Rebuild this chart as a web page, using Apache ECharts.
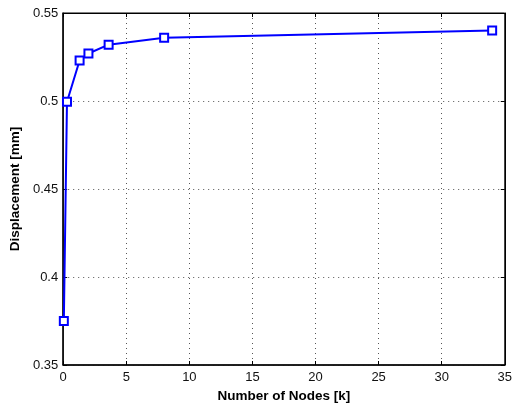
<!DOCTYPE html>
<html>
<head>
<meta charset="utf-8">
<script src="https://cdn.jsdelivr.net/npm/echarts@6/dist/echarts.min.js"></script>
<style>html,body{margin:0;padding:0;background:#fff}#c{width:515px;height:408px}</style>
</head>
<body>
<div id="c"></div>
<script>
var nodes = [0.05, 0.3, 1.3, 2.0, 3.6, 8.0, 34.0];
var displacement = [0.375, 0.4996, 0.523, 0.527, 0.532, 0.536, 0.540];
var xTicks = [0, 5, 10, 15, 20, 25, 30, 35];
var yTicks = [0.35, 0.4, 0.45, 0.5, 0.55];

var font = 'Liberation Sans, Arial, Helvetica, sans-serif';
var data = nodes.map(function (x, i) { return [x, displacement[i]]; });

var chart = echarts.init(document.getElementById('c'));
var gridLine = { show: true, lineStyle: { color: '#555', type: [1, 4], width: 1 } };
chart.setOption({
  animation: false,
  backgroundColor: '#fff',
  grid: { left: 61, right: 7, top: 13, bottom: 43, show: true, borderColor: '#000', borderWidth: 1 },
  xAxis: [{
    type: 'value', min: 0, max: 35, interval: 5,
    name: 'Number of Nodes [k]', nameLocation: 'middle', nameGap: 21,
    nameTextStyle: { fontFamily: font, fontWeight: 'bold', fontSize: 13.5, color: '#000' },
    axisLine: { show: true, onZero: false, lineStyle: { color: '#000', width: 1.5 } },
    axisTick: { show: true, inside: true, length: 4, lineStyle: { color: '#000' } },
    axisLabel: { fontFamily: font, fontSize: 13, color: '#111', margin: 6 },
    splitLine: gridLine
  }, {
    type: 'value', min: 0, max: 35, interval: 5, position: 'top',
    axisLine: { show: true, onZero: false, lineStyle: { color: '#000', width: 1 } },
    axisTick: { show: true, inside: true, length: 4, lineStyle: { color: '#000' } },
    axisLabel: { show: false }, splitLine: { show: false }
  }],
  yAxis: [{
    type: 'value', min: 0.35, max: 0.55, interval: 0.05,
    name: 'Displacement [mm]', nameLocation: 'middle', nameGap: 39,
    nameTextStyle: { fontFamily: font, fontWeight: 'bold', fontSize: 13.5, color: '#000' },
    axisLine: { show: true, onZero: false, lineStyle: { color: '#000', width: 1.5 } },
    axisTick: { show: true, inside: true, length: 4, lineStyle: { color: '#000' } },
    axisLabel: { fontFamily: font, fontSize: 13, color: '#111', margin: 5,
      formatter: function (v) { return String(Math.round(v * 100) / 100); } },
    splitLine: gridLine
  }, {
    type: 'value', min: 0.35, max: 0.55, interval: 0.05, position: 'right',
    axisLine: { show: true, onZero: false, lineStyle: { color: '#000', width: 1 } },
    axisTick: { show: true, inside: true, length: 4, lineStyle: { color: '#000' } },
    axisLabel: { show: false }, splitLine: { show: false }
  }],
  series: [{
    type: 'line', xAxisIndex: 0, yAxisIndex: 0,
    data: data,
    symbol: 'emptyRect', symbolSize: 8,
    lineStyle: { color: '#0000ff', width: 2 },
    itemStyle: { color: '#0000ff', borderColor: '#0000ff', borderWidth: 1.8 }
  }]
});
</script>
</body>
</html>
